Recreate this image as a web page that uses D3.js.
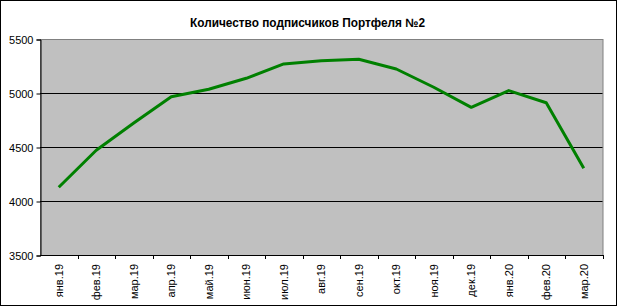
<!DOCTYPE html>
<html lang="ru">
<head>
<meta charset="UTF-8">
<script src="https://cdn.jsdelivr.net/npm/d3@7"></script>
<style>
  html,body{margin:0;padding:0;background:#fff;}
  svg{display:block;}
  text{font-family:'Liberation Sans', Arial, sans-serif;fill:#000;}
</style>
</head>
<body>
<div id="chart"></div>
<script>
// data
var months = ["янв.19","фев.19","мар.19","апр.19","май.19","июн.19","июл.19","авг.19",
              "сен.19","окт.19","ноя.19","дек.19","янв.20","фев.20","мар.20"];
var subscribers = [4127, 4470, 4722, 4966, 5035, 5136, 5269, 5299, 5312, 5222, 5053, 4867, 5022, 4910, 4303];
var yTicks = [3500, 4000, 4500, 5000, 5500];
var title = "Количество подписчиков Портфеля №2";

var width = 617, height = 306;
var plotLeft = 40, plotRight = 602.5, plotTop = 39, plotBottom = 255;

var svg = d3.select("#chart").append("svg")
    .attr("width", width)
    .attr("height", height);

// outer frame
svg.append("rect")
    .attr("x", 0.5).attr("y", 0.5)
    .attr("width", width - 1).attr("height", height - 1)
    .attr("fill", "#fff").attr("stroke", "#000");

var x = d3.scaleBand().domain(months).range([plotLeft, plotRight]);
var y = d3.scaleLinear().domain([3500, 5500]).range([plotBottom, plotTop]);

// plot area
svg.append("rect")
    .attr("x", plotLeft + 0.5).attr("y", plotTop + 0.5)
    .attr("width", plotRight - plotLeft).attr("height", plotBottom - plotTop)
    .attr("fill", "#c0c0c0").attr("stroke", "#808080");

// gridlines
svg.append("g").selectAll("line")
    .data(yTicks.filter(function(d){ return d > 3500 && d < 5500; }))
    .enter().append("line")
    .attr("x1", plotLeft).attr("x2", plotRight)
    .attr("y1", function(d){ return Math.round(y(d)) + 0.5; })
    .attr("y2", function(d){ return Math.round(y(d)) + 0.5; })
    .attr("stroke", "#000");

// y axis
var yAxis = svg.append("g")
    .attr("transform", "translate(" + (plotLeft + 0.5) + ",0.5)")
    .call(d3.axisLeft(y).tickValues(yTicks).tickSize(4).tickPadding(3).tickFormat(d3.format("d")));
yAxis.select(".domain").attr("stroke", "#000");
yAxis.selectAll(".tick line").attr("stroke", "#000");
yAxis.selectAll("text").attr("font-family", null).style("font-size", "11px").attr("fill", "#000");

// x axis: ticks at band boundaries
var xg = svg.append("g");
xg.append("line")
    .attr("x1", plotLeft).attr("x2", plotRight + 1)
    .attr("y1", plotBottom + 0.5).attr("y2", plotBottom + 0.5)
    .attr("stroke", "#000");
var bounds = months.map(function(d){ return x(d); }).slice(1).concat([plotRight]);
xg.selectAll("line.tk")
    .data(bounds)
    .enter().append("line")
    .attr("class", "tk")
    .attr("x1", function(d){ return Math.round(d) + 0.5; })
    .attr("x2", function(d){ return Math.round(d) + 0.5; })
    .attr("y1", plotBottom).attr("y2", plotBottom + 4)
    .attr("stroke", "#000");
xg.selectAll("text")
    .data(months)
    .enter().append("text")
    .attr("transform", function(d){
        return "translate(" + (x(d) + x.bandwidth() / 2 + 4) + "," + (plotBottom + 9) + ") rotate(-90)";
    })
    .attr("text-anchor", "end")
    .style("font-size", "11px")
    .text(function(d){ return d; });

// line
var line = d3.line()
    .x(function(d, i){ return x(months[i]) + x.bandwidth() / 2; })
    .y(function(d){ return y(d); });

svg.append("path")
    .datum(subscribers)
    .attr("d", line)
    .attr("fill", "none")
    .attr("stroke", "#008000")
    .attr("stroke-width", 3)
    .attr("stroke-linejoin", "round");

// title
svg.append("text")
    .attr("x", 190).attr("y", 27)
    .attr("textLength", 235)
    .attr("lengthAdjust", "spacingAndGlyphs")
    .style("font-size", "12px")
    .style("font-weight", "bold")
    .text(title);
</script>
</body>
</html>
